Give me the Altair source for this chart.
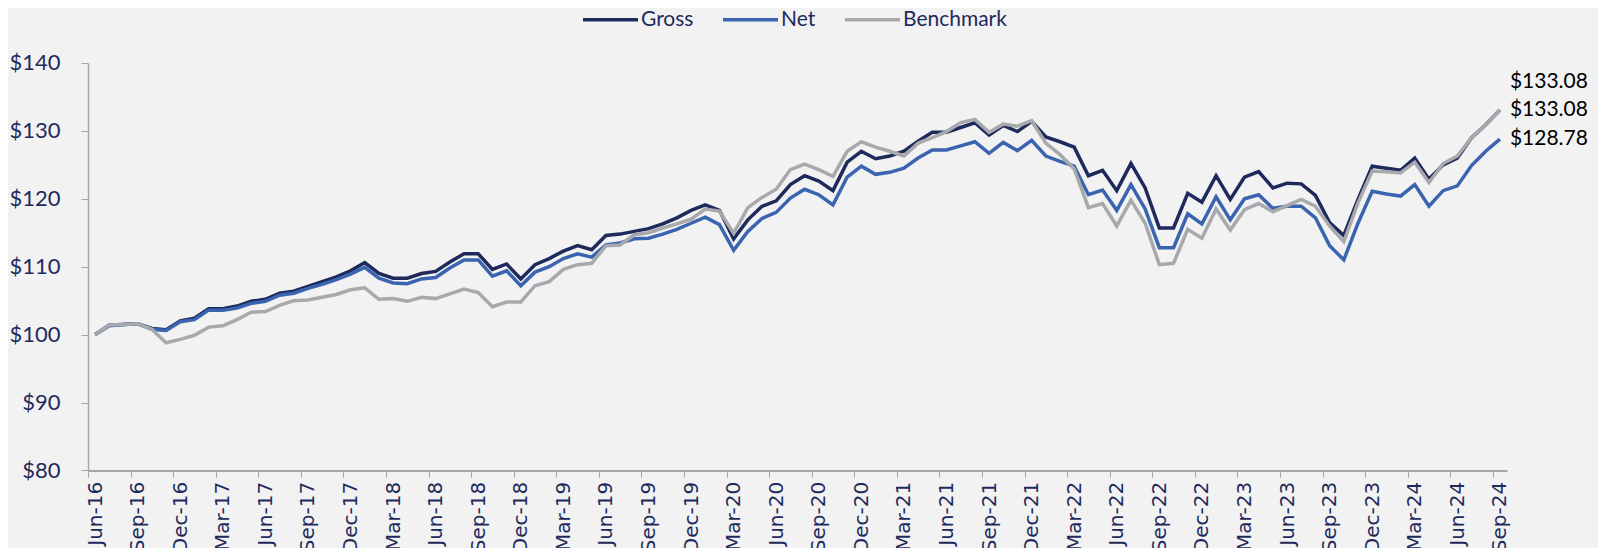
import altair as alt
import pandas as pd

months = ["Jun-16","Jul-16","Aug-16","Sep-16","Oct-16","Nov-16","Dec-16",
          "Jan-17","Feb-17","Mar-17","Apr-17","May-17","Jun-17","Jul-17","Aug-17","Sep-17","Oct-17","Nov-17","Dec-17",
          "Jan-18","Feb-18","Mar-18","Apr-18","May-18","Jun-18","Jul-18","Aug-18","Sep-18","Oct-18","Nov-18","Dec-18",
          "Jan-19","Feb-19","Mar-19","Apr-19","May-19","Jun-19","Jul-19","Aug-19","Sep-19","Oct-19","Nov-19","Dec-19",
          "Jan-20","Feb-20","Mar-20","Apr-20","May-20","Jun-20","Jul-20","Aug-20","Sep-20","Oct-20","Nov-20","Dec-20",
          "Jan-21","Feb-21","Mar-21","Apr-21","May-21","Jun-21","Jul-21","Aug-21","Sep-21","Oct-21","Nov-21","Dec-21",
          "Jan-22","Feb-22","Mar-22","Apr-22","May-22","Jun-22","Jul-22","Aug-22","Sep-22","Oct-22","Nov-22","Dec-22",
          "Jan-23","Feb-23","Mar-23","Apr-23","May-23","Jun-23","Jul-23","Aug-23","Sep-23","Oct-23","Nov-23","Dec-23",
          "Jan-24","Feb-24","Mar-24","Apr-24","May-24","Jun-24","Jul-24","Aug-24","Sep-24"]

gross = [100.0, 101.4, 101.5, 101.6, 100.9, 100.7, 102.0,
         102.4, 103.8, 103.8, 104.2, 104.9, 105.2, 106.1, 106.4, 107.1, 107.8, 108.5, 109.4,
         110.6, 109.0, 108.3, 108.3, 109.0, 109.3, 110.7, 111.9, 111.9, 109.6, 110.4, 108.2,
         110.3, 111.2, 112.3, 113.1, 112.5, 114.6, 114.8, 115.2, 115.6, 116.3, 117.2, 118.3,
         119.1, 118.3, 114.1, 116.9, 118.9, 119.7, 122.1, 123.4, 122.6, 121.2, 125.4, 127.0,
         125.9, 126.3, 127.0, 128.5, 129.8, 129.8, 130.5, 131.2, 129.4, 130.8, 129.9, 131.4,
         129.1, 128.4, 127.6, 123.4, 124.2, 121.2, 125.2, 121.6, 115.7, 115.7, 120.8, 119.5,
         123.4, 119.9, 123.2, 124.0, 121.6, 122.3, 122.2, 120.5, 116.5, 114.6, 119.9, 124.8,
         124.5, 124.2, 126.0, 122.9, 125.0, 126.0, 129.0, 130.9, 133.08]

net = [100.0, 101.3, 101.5, 101.6, 100.8, 100.6, 101.9,
       102.2, 103.6, 103.6, 103.9, 104.6, 104.9, 105.8, 106.1, 106.8, 107.4, 108.1, 108.9,
       109.9, 108.3, 107.6, 107.5, 108.2, 108.4, 109.8, 111.0, 111.0, 108.6, 109.4, 107.2,
       109.2, 110.0, 111.2, 111.9, 111.4, 113.2, 113.5, 114.1, 114.2, 114.8, 115.5, 116.4,
       117.3, 116.2, 112.4, 115.2, 117.1, 118.0, 120.1, 121.4, 120.6, 119.1, 123.2, 124.8,
       123.6, 123.9, 124.5, 126.0, 127.2, 127.2, 127.8, 128.4, 126.7, 128.3, 127.1, 128.6,
       126.3, 125.5, 124.8, 120.6, 121.3, 118.3, 122.1, 118.5, 112.8, 112.8, 117.8, 116.3,
       120.3, 116.9, 120.0, 120.6, 118.6, 118.9, 118.9, 117.2, 113.1, 111.0, 116.4, 121.1,
       120.7, 120.4, 122.1, 118.9, 121.2, 121.9, 124.9, 127.0, 128.78]

benchmark = [100.0, 101.4, 101.5, 101.6, 100.8, 98.8, 99.3,
             99.9, 101.1, 101.3, 102.2, 103.3, 103.4, 104.3, 105.0, 105.1, 105.5, 105.9, 106.6,
             106.9, 105.2, 105.3, 104.9, 105.5, 105.3, 106.0, 106.7, 106.2, 104.1, 104.8, 104.8,
             107.2, 107.8, 109.6, 110.3, 110.5, 113.1, 113.2, 114.7, 115.0, 115.7, 116.3, 117.0,
             118.5, 118.2, 114.9, 118.7, 120.2, 121.4, 124.3, 125.1, 124.3, 123.3, 127.0, 128.4,
             127.6, 127.0, 126.3, 128.2, 129.0, 129.9, 131.2, 131.7, 129.8, 131.0, 130.7, 131.5,
             128.2, 126.5, 124.4, 118.7, 119.3, 116.0, 119.8, 116.4, 110.3, 110.5, 115.5, 114.2,
             118.5, 115.4, 118.4, 119.3, 118.1, 119.0, 119.9, 118.9, 116.0, 113.7, 119.4, 124.1,
             124.0, 123.8, 125.4, 122.4, 125.2, 126.3, 129.0, 130.9, 133.08]

series_names = ["Gross", "Net", "Benchmark"]
series_colors = ["#1f2a5c", "#3b64b0", "#a7a9ad"]
y_ticks = [80, 90, 100, 110, 120, 130, 140]
x_tick_idx = list(range(0, len(months), 3))

rows = []
for name, vals in zip(series_names, [gross, net, benchmark]):
    for i, v in enumerate(vals):
        rows.append({"i": i, "month": months[i], "series": name, "value": v})
df = pd.DataFrame(rows)

last = len(months) - 1
end_df = pd.DataFrame({
    "i": [last, last, last],
    "series": series_names,
    "value": [gross[-1], net[-1], benchmark[-1]],
    "label": ["$%.2f" % gross[-1], "$%.2f" % net[-1], "$%.2f" % benchmark[-1]],
})

label_array = "[" + ",".join("'%s'" % m for m in months) + "]"

FONT = "Lato"
NAVY = "#1f2a5c"
GRAY = "#a6a6a6"

x_enc = alt.X("i:Q",
              scale=alt.Scale(domain=[-0.5, last + 0.5], nice=False, zero=False),
              axis=alt.Axis(values=x_tick_idx, labelExpr=label_array + "[datum.value]",
                            labelAngle=270, labelAlign="right", labelBaseline="middle",
                            labelFont="DejaVu Sans", labelFontSize=20, labelColor=NAVY,
                            labelPadding=4, tickOffset=-7.1, labelOffset=7.1,
                            tickSize=7, tickColor=GRAY, domainColor=GRAY, domainWidth=2,
                            grid=False, title=None, labelOverlap=False, labelBound=False,
                            labelFlush=False))
y_enc = alt.Y("value:Q",
              scale=alt.Scale(domain=[80, 140], nice=False, zero=False),
              axis=alt.Axis(values=y_ticks, labelExpr="'$' + datum.value",
                            labelFont=FONT, labelFontSize=22, labelColor=NAVY,
                            labelPadding=21, tickSize=7, tickColor=GRAY,
                            domainColor=GRAY, domainWidth=1.5, grid=False, title=None))

lines = alt.Chart(df).mark_line(strokeWidth=3.5, strokeJoin="miter").encode(
    x=x_enc,
    y=y_enc,
    color=alt.Color("series:N",
                    scale=alt.Scale(domain=series_names, range=series_colors),
                    sort=series_names,
                    legend=alt.Legend(title=None, orient="none", direction="horizontal",
                                      legendX=493, legendY=-73,
                                      symbolType="stroke", symbolSize=3025,
                                      symbolStrokeWidth=3.5, labelFont=FONT,
                                      labelFontSize=21, labelColor=NAVY,
                                      labelOffset=1, columnPadding=22)),
    order=alt.Order("i:Q"),
    detail="series:N",
)

base_end = alt.Chart(end_df)
labels_main = base_end.transform_filter(alt.datum.series != "Gross").mark_text(
    align="left", baseline="middle", dx=10, font=FONT, fontSize=21, color="#000000"
).encode(x="i:Q", y="value:Q", text="label:N")
labels_top = base_end.transform_filter(alt.datum.series == "Gross").mark_text(
    align="left", baseline="middle", dx=10, dy=-28, font=FONT, fontSize=21, color="#000000"
).encode(x="i:Q", y="value:Q", text="label:N")

chart = alt.layer(lines, labels_main, labels_top).properties(
    width=1419, height=407.4,
    autosize=alt.AutoSizeParams(type="none"),
    padding={"left": 80, "top": 55, "right": 91, "bottom": 78},
    background="#f2f2f2",
).configure_view(stroke=None)

chart.save("out.html", embed_options={"renderer": "svg", "actions": False})
